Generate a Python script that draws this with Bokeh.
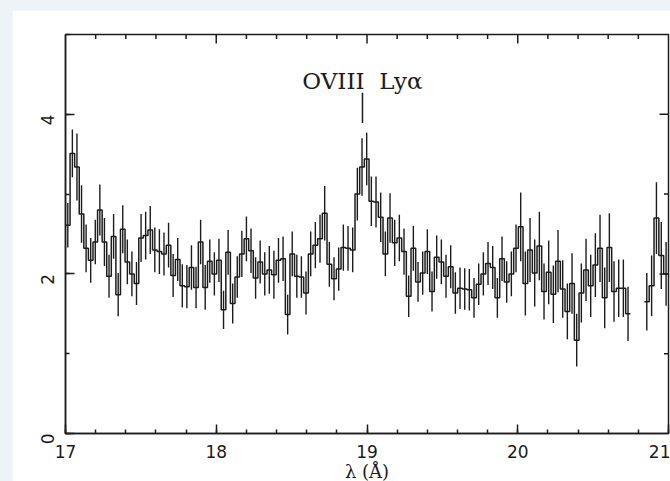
import math
import numpy as np
from bokeh.plotting import figure
from bokeh.models import Range1d, SingleIntervalTicker, Label
from bokeh.embed import file_html
from bokeh.resources import INLINE

# ---- data ----
# wavelength bin grid (Angstrom): (start, end, number of bins) of each stretch
grid_main = [(17.00, 18.58, 52), (18.58, 20.747, 70)]
grid_tail = [(20.84, 21.00, 5)]

flux_main = [
    2.61, 3.51, 3.34, 2.75, 2.32, 2.17, 2.40, 2.80, 2.40, 1.97, 2.47, 1.74, 2.56,
    2.15, 2.00, 1.88, 2.45, 2.48, 2.55, 2.30, 2.28, 2.25, 2.36, 1.98, 2.18, 1.85,
    1.84, 2.08, 1.83, 2.40, 1.83, 2.16, 2.00, 2.17, 1.55, 2.27, 1.63, 1.96, 2.25,
    2.44, 2.29, 1.95, 2.15, 2.00, 2.05, 1.99, 2.17, 2.19, 1.49, 2.25, 1.97, 1.96,
    1.76, 2.25, 2.36, 2.44, 2.76, 2.12, 1.94, 2.06, 2.33, 2.32, 2.30, 3.00, 3.34,
    3.44, 2.91, 2.90, 2.71, 2.25, 2.70, 2.39, 2.45, 2.28, 1.72, 2.32, 1.90, 2.01, 2.28,
    1.78, 2.21, 2.15, 1.97, 2.09, 1.76, 1.82, 1.81, 1.80, 1.70, 1.87, 2.00, 2.13,
    2.08, 1.70, 2.19, 1.90, 2.00, 2.32, 2.59, 1.88, 2.30, 2.01, 2.35, 1.78,
    2.02, 1.745, 2.16, 1.81, 1.53, 1.88, 1.17, 1.76, 2.05, 1.85, 2.11, 2.32, 1.70,
    2.33, 1.78, 1.82, 1.82, 1.50,
]
err_main = [
    .28, .30, .42, .36, .30, .28, .28, .32, .30, .27, .28, .27, .30,
    .28, .28, .27, .30, .30, .30, .28, .28, .27, .28, .27, .27, .27,
    .27, .28, .26, .28, .28, .27, .27, .27, .24, .28, .25, .26, .29,
    .28, .28, .26, .27, .27, .30, .30, .28, .28, .25, .28, .27, .26,
    .27, .28, .29, .30, .34, .28, .27, .27, .29, .28, .28, .33, .36,
    .33, .31, .32, .31, .28, .31, .29, .29, .29, .26, .28, .25, .27, .28,
    .25, .27, .28, .27, .27, .26, .26, .26, .26, .25, .26, .27, .27,
    .27, .25, .28, .26, .28, .30, .43, .40, .40, .42, .43, .35,
    .40, .36, .39, .36, .35, .38, .33, .37, .39, .39, .40, .42, .38,
    .43, .38, .36, .36, .34,
]
flux_tail = [1.65, 1.85, 2.70, 2.23, 2.00]
err_tail = [.36, .38, .45, .42, .40]

line_name = "OVIII\u00a0\u00a0Ly\u03b1"
line_wavelength = 18.97
line_label_y = 4.42
line_marker_y = [3.89, 4.27]

X_MIN, X_MAX, Y_MIN, Y_MAX = 17, 21, 0, 5
x_major_step, x_minor_step = 1.0, 0.2
y_major_step, y_minor_step = 2.0, 1.0

INK = "#1c1c1c"


def bin_edges(grid):
    parts = []
    for i, (a, b, n) in enumerate(grid):
        e = np.linspace(a, b, n + 1)
        parts.append(e if i == 0 else e[1:])
    return np.concatenate(parts)


p = figure(width=658, height=474, x_range=Range1d(X_MIN, X_MAX), y_range=Range1d(Y_MIN, Y_MAX),
           output_backend="svg", toolbar_location=None,
           min_border_left=53, min_border_right=2, min_border_top=24, min_border_bottom=47,
           background_fill_color="white", border_fill_color="white")
p.margin = (10, 0, 0, 12)
p.xgrid.visible = False
p.ygrid.visible = False
p.outline_line_color = INK
p.outline_line_width = 1.5

for edges_grid, flux, err in ((grid_main, flux_main, err_main), (grid_tail, flux_tail, err_tail)):
    edges = bin_edges(edges_grid)
    f = np.array(flux)
    e = np.array(err)
    centers = 0.5 * (edges[:-1] + edges[1:])
    p.step(x=edges, y=np.append(f, f[-1]), mode="after", line_color=INK, line_width=1.5)
    p.segment(x0=centers, y0=f - e, x1=centers, y1=f + e, line_color=INK, line_width=1.4)

p.segment(x0=[line_wavelength], y0=[line_marker_y[0]], x1=[line_wavelength], y1=[line_marker_y[1]],
          line_color=INK, line_width=1.5)
p.add_layout(Label(x=line_wavelength, y=line_label_y, text=line_name, text_align="center",
                   text_baseline="middle", text_font="DejaVu Serif", text_font_size="23px",
                   text_color=INK))

# inward ticks on the top and right edges of the frame
top_major = np.arange(X_MIN + x_major_step, X_MAX, x_major_step)
top_minor = np.array([v for v in np.arange(X_MIN + x_minor_step, X_MAX - 1e-9, x_minor_step)
                      if abs(v - round(v)) > 1e-6])
right_major = np.arange(Y_MIN + y_major_step, Y_MAX, y_major_step)
right_minor = np.arange(Y_MIN + y_minor_step, Y_MAX, y_major_step)
p.ray(x=top_major, y=Y_MAX, length=9, length_units="screen", angle=-math.pi / 2,
      line_color=INK, line_width=1.5)
p.ray(x=top_minor, y=Y_MAX, length=4.5, length_units="screen", angle=-math.pi / 2,
      line_color=INK, line_width=1.5)
p.ray(x=X_MAX, y=right_major, length=9, length_units="screen", angle=math.pi,
      line_color=INK, line_width=1.5)
p.ray(x=X_MAX, y=right_minor, length=4.5, length_units="screen", angle=math.pi,
      line_color=INK, line_width=1.5)

bottom = p.below[0]
left = p.left[0]
bottom.ticker = SingleIntervalTicker(interval=x_major_step, num_minor_ticks=5)
left.ticker = SingleIntervalTicker(interval=y_major_step, num_minor_ticks=2)

for ax in [bottom, left]:
    ax.major_tick_in = 9
    ax.major_tick_out = 0
    ax.minor_tick_in = 4
    ax.minor_tick_out = 0
    ax.axis_line_color = INK
    ax.axis_line_width = 1.5
    ax.major_tick_line_color = INK
    ax.major_tick_line_width = 1.5
    ax.minor_tick_line_color = INK
    ax.minor_tick_line_width = 1.5
    ax.major_label_text_font = "DejaVu Sans"
    ax.major_label_text_font_size = "17px"
    ax.major_label_text_color = INK

bottom.major_label_standoff = 11
bottom.axis_label = "\u03bb (\u00c5)"
bottom.axis_label_text_font = "DejaVu Serif"
bottom.axis_label_text_font_style = "normal"
bottom.axis_label_text_font_size = "18px"
bottom.axis_label_text_color = INK
bottom.axis_label_standoff = 0

left.major_label_orientation = math.pi / 2
left.major_label_standoff = 18

html = file_html(p, INLINE)
html = html.replace("</head>",
                    "<style>html,body{margin:0;padding:0;overflow:hidden;background:#edf3f7;}</style></head>", 1)
open("out.html", "w").write(html)
